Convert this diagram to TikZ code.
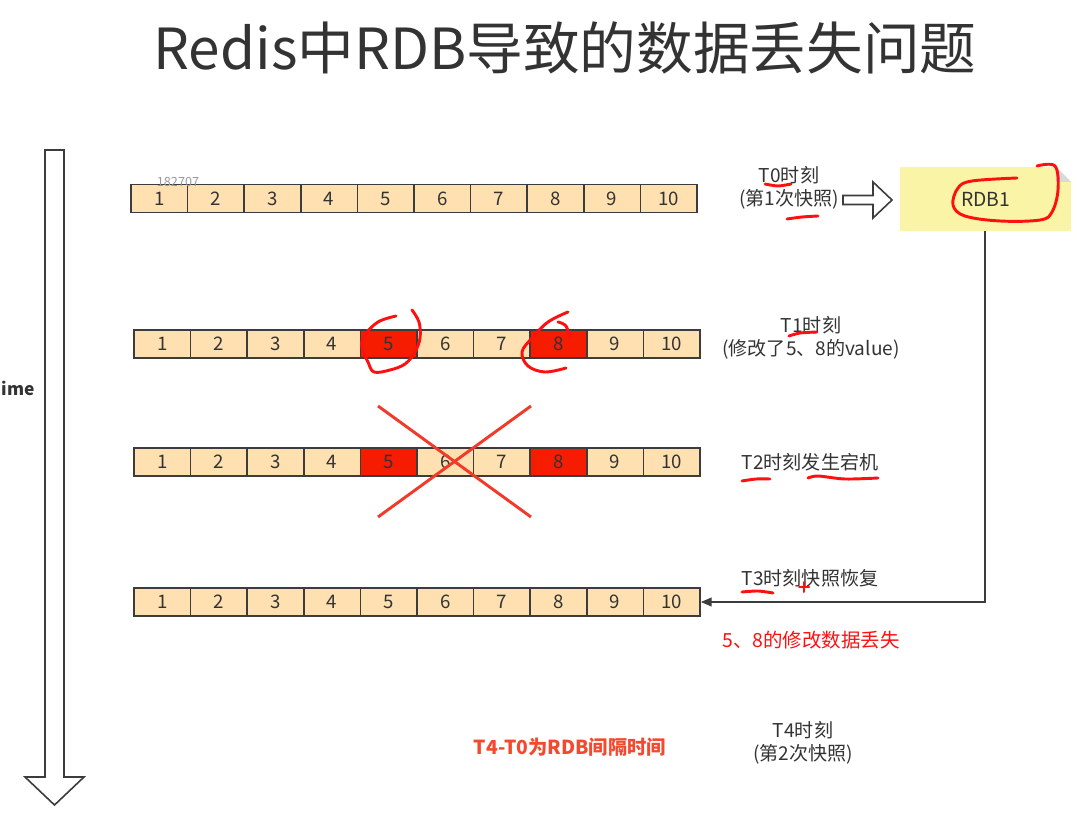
\documentclass[tikz,border=0pt]{standalone}
\usepackage{fontspec}
\newfontfamily\cjk{Noto Sans CJK SC}
\usetikzlibrary{arrows.meta}
\definecolor{cellfill}{HTML}{FFE0B0}
\definecolor{hotred}{HTML}{F51C00}
\definecolor{ink}{HTML}{333333}
\definecolor{edge}{HTML}{3C3C3C}
\definecolor{notefill}{HTML}{FAF4A6}
\definecolor{pen}{HTML}{FF1010}
\definecolor{xred}{HTML}{F23A2A}
\definecolor{boldred}{HTML}{F24A2E}
\tikzset{
  cell/.style={draw=edge, line width=1.3pt, minimum width=56.6*0.75pt, minimum height=28*0.75pt,
    inner sep=0pt, font=\cjk\fontsize{14pt}{14pt}\selectfont, text=ink},
  lbl/.style={font=\cjk\fontsize{14.3pt}{17pt}\selectfont, text=ink, align=center, inner sep=0pt},
  pen/.style={draw=pen, line width=2.2pt, line cap=round, line join=round},
  hollow/.style={draw=edge, line width=1.2pt, fill=white},
}
\begin{document}
\begin{tikzpicture}[x=0.75pt, y=-0.75pt]
\useasboundingbox (0,0) rectangle (1077,830);
% title
\node[font=\cjk\fontsize{42.5pt}{44pt}\selectfont, text=ink, inner sep=0pt] (title) at (565,48) {Redis中RDB导致的数据丢失问题};
% time arrow
\draw[hollow] (45,150) -- (64,150) -- (64,777) -- (84,777) -- (54.5,805) -- (25,777) -- (45,777) -- cycle;
\node[font=\cjk\bfseries\fontsize{13pt}{14pt}\selectfont, text=ink, anchor=east, inner sep=0pt] (tlabel) at (35,388) {ime};
% arrays
\foreach \r/\y/\xs in {1/198.5/131, 2/344/134, 3/462/134, 4/602/134} {
  \foreach \i in {1,...,10} {
    \pgfmathtruncatemacro\hot{and(or(\r==2,\r==3),or(\i==5,\i==8))}
    \ifnum\hot=1 \def\cf{hotred}\else\def\cf{cellfill}\fi
    \node[cell, fill=\cf] (r\r c\i) at ({\xs+(\i-0.5)*56.6}, \y) {\i};
  }
}
\node[font=\cjk\fontsize{9.5pt}{10pt}\selectfont, text=black!40, inner sep=0pt] (wm) at (178,182) {182707};
% labels
\node[lbl] (t0) at (789,188) {T0时刻\\(第1次快照)};
\draw[hollow] (843,195.5) -- (873,195.5) -- (873,182) -- (892,200) -- (873,218) -- (873,204.5) -- (843,204.5) -- cycle;
% RDB1 note
\fill[notefill] (900,167) -- (1056,167) -- (1071,182) -- (1071,231) -- (900,231) -- cycle;
\fill[black!15] (1056,167) -- (1071,182) -- (1056,182) -- cycle;
\node[font=\cjk\fontsize{14.5pt}{15pt}\selectfont, text=ink, inner sep=0pt, minimum width=171*0.75pt, minimum height=64*0.75pt] (rdb) at (985.5,199) {RDB1};
\node[lbl] (t1) at (811,338) {T1时刻\\(修改了5、8的value)};
\node[lbl] (t2) at (810,462) {T2时刻发生宕机};
\node[lbl] (t3) at (810,578) {T3时刻快照恢复};
\node[lbl, text=pen, font=\cjk\fontsize{14.6pt}{16pt}\selectfont] (lost) at (811,640) {5、8的修改数据丢失};
\node[lbl, text=boldred, font=\cjk\bfseries\fontsize{14.5pt}{16pt}\selectfont] (gap) at (570,747) {T4-T0为RDB间隔时间};
\node[lbl] (t4) at (803,743) {T4时刻\\(第2次快照)};
% restore connector
\draw[draw=edge, line width=1.2pt, -{Triangle[length=8pt,width=6.5pt]}] (rdb.south -| 985,0) -- (985,602) -- (r4c10.east);
% red X
\draw[xred, line width=2.2pt] (378,406) -- (531,517);
\draw[xred, line width=2.2pt] (531,406) -- (378,517);
% hand annotations
\draw[pen] plot[smooth, tension=0.6] coordinates {(1037,166) (1055,166) (1058,190) (1052,212) (1040,220) (1000,221) (965,216) (953,205) (958,188) (972,181) (1017,178)};
\draw[pen] plot[smooth] coordinates {(765,184) (778,186) (791,184)};
\draw[pen] plot[smooth] coordinates {(787,219) (802,217) (818,216)};
\draw[pen] plot[smooth] coordinates {(789,336) (800,333) (817,332)};
\draw[pen] plot[smooth, tension=0.6] coordinates {(396,316) (378,322) (364,336) (362,348) (368,362) (374,372) (390,370) (405,364) (415,352) (420,338) (419,322) (412,310)};
\draw[pen] plot[smooth, tension=0.6] coordinates {(568,312) (548,322) (532,338) (522,352) (528,366) (545,372) (566,368)};
\draw[pen] plot[smooth, tension=0.6] coordinates {(558,322) (566,326) (570,338)};
\draw[pen] plot[smooth] coordinates {(742,481) (756,479) (770,479)};
\draw[pen] plot[smooth] coordinates {(808,478) (818,476) (845,479) (878,478)};
\draw[pen] plot[smooth] coordinates {(742,592) (758,591) (773,593)};
\draw[pen, line width=1.5pt] (799,587) -- (809,587) (804,582) -- (804,592);
\end{tikzpicture}
\end{document}
